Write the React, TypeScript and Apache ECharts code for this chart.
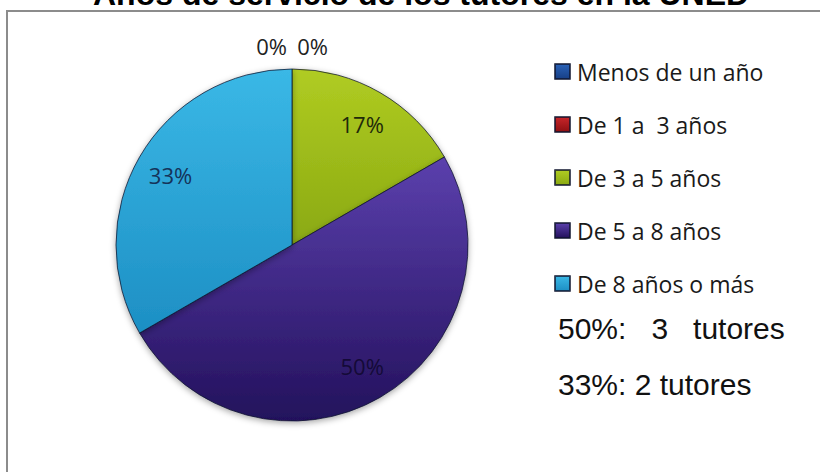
import React, { useEffect, useRef } from "react";
import * as echarts from "echarts";

const titleText = "Años de servicio de los tutores en la UNED";
const categories = ["Menos de un año", "De 1 a  3 años", "De 3 a 5 años", "De 5 a 8 años", "De 8 años o más"];
const values = [0, 0, 1, 3, 2];
const notes = ["50%:   3   tutores", "33%: 2 tutores"];

const topColors = ["#2a62b8", "#c8262a", "#b0cc22", "#5b40ad", "#3ab8e6"];
const bottomColors = ["#173f86", "#8e0f12", "#8aa912", "#23115c", "#1d8fc4"];
const labelColors = ["#222222", "#222222", "#1f2a0a", "#140a38", "#15335a"];

const grad = (i: number) =>
  new echarts.graphic.LinearGradient(0, 0, 0, 1, [
    { offset: 0, color: topColors[i] },
    { offset: 1, color: bottomColors[i] },
  ]);

export default function App() {
  const ref = useRef<HTMLDivElement>(null);
  useEffect(() => {
    if (!ref.current) return;
    const chart = echarts.init(ref.current, undefined, { renderer: "svg" });
    const cx = 292;
    const cy = 245;
    const r = 176;
    const mainData = categories.map((name, i) => ({
      name,
      value: values[i],
      itemStyle: { color: grad(i) },
    }));
    const labelData = categories.map((name, i) => ({
      name,
      value: values[i],
      label:
        values[i] === 0
          ? { position: "outside", color: labelColors[i] }
          : { position: "inside", color: labelColors[i] },
    }));
    chart.setOption({
      animation: false,
      backgroundColor: "#ffffff",
      title: {
        text: titleText,
        left: 88,
        top: -27,
        textStyle: { fontFamily: "Liberation Sans", fontWeight: "bold", fontSize: 32, color: "#000" },
      },
      legend: {
        data: categories,
        orient: "vertical",
        left: 549,
        top: 55,
        itemWidth: 15,
        itemHeight: 15,
        itemGap: 30,
        icon: "rect",
        textStyle: { fontFamily: "Open Sans", fontSize: 23, color: "#1a1a1a", padding: [0, 0, 0, 2] },
        selectedMode: false,
      },
      graphic: [
        {
          type: "rect",
          shape: { x: 7, y: 11, width: 840, height: 490 },
          style: { fill: "none", stroke: "#8c8c8c", lineWidth: 2 },
          silent: true,
        },
        ...notes.map((t, i) => ({
          type: "text",
          left: 558,
          top: 313 + i * 56,
          style: { text: t, fontFamily: "Liberation Sans", fontSize: 30, fill: "#111" },
        })),
      ],
      series: [
        {
          type: "pie",
          center: [cx, cy],
          radius: r,
          startAngle: 90,
          clockwise: true,
          label: { show: false },
          labelLine: { show: false },
          itemStyle: {
            borderColor: "rgba(15,20,45,0.75)",
            borderWidth: 1,
            shadowBlur: 6,
            shadowColor: "rgba(0,0,0,0.35)",
            shadowOffsetY: 2,
          },
          silent: true,
          data: mainData,
        },
        {
          type: "pie",
          center: [cx, cy],
          radius: [r * 0.56, r],
          startAngle: 90,
          clockwise: true,
          silent: true,
          avoidLabelOverlap: false,
          itemStyle: { color: "rgba(0,0,0,0)", borderWidth: 0 },
          label: {
            show: true,
            fontFamily: "Open Sans",
            fontSize: 22,
            formatter: (p: any) => Math.round(p.percent) + "%",
            distanceToLabelLine: 5,
          },
          labelLine: { show: false, length: 23, length2: 0 },
          labelLayout: (p: any) => (p.dataIndex === 1 ? { dx: 41 } : {}),
          data: labelData,
        },
      ],
    });
    return () => chart.dispose();
  }, []);
  return <div ref={ref} style={{ position: "fixed", left: 0, top: 0, width: 820, height: 472 }} />;
}
